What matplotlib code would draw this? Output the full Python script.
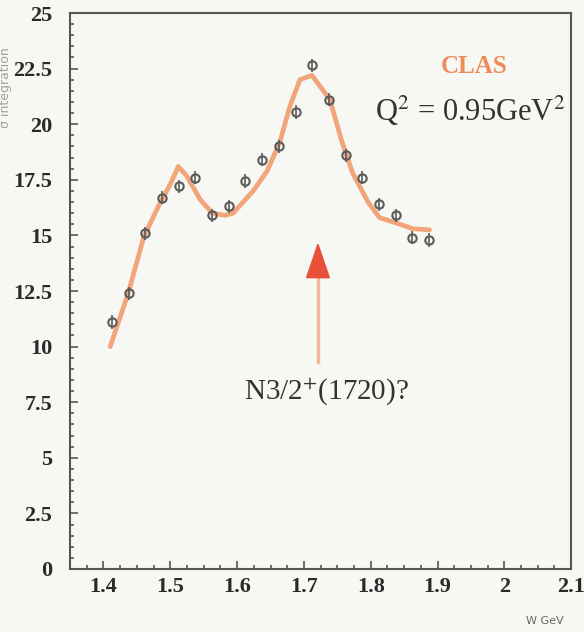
import numpy as np
from matplotlib import pyplot as plt
from matplotlib.ticker import MultipleLocator, FormatStrFormatter

# data
W = [1.4125, 1.4375, 1.4625, 1.4875, 1.5125, 1.5375, 1.5625, 1.5875, 1.6125, 1.6375,
     1.6625, 1.6875, 1.7125, 1.7375, 1.7625, 1.7875, 1.8125, 1.8375, 1.8625, 1.8875]
sigma = [11.1, 12.4, 15.1, 16.7, 17.2, 17.6, 15.9, 16.3, 17.45, 18.4,
         19.0, 20.55, 22.65, 21.1, 18.6, 17.6, 16.4, 15.9, 14.9, 14.8]
sigma_err = [0.3, 0.3, 0.3, 0.3, 0.3, 0.3, 0.3, 0.3, 0.3, 0.3,
             0.3, 0.3, 0.3, 0.3, 0.3, 0.3, 0.3, 0.3, 0.3, 0.3]

# fit curve
W_fit = [1.410, 1.437, 1.460, 1.482, 1.500, 1.512, 1.524, 1.545, 1.563, 1.582,
         1.594, 1.624, 1.645, 1.664, 1.679, 1.694, 1.712, 1.739, 1.757, 1.773,
         1.796, 1.813, 1.839, 1.863, 1.888]
sigma_fit = [10.0, 12.4, 14.9, 16.3, 17.3, 18.1, 17.7, 16.6, 16.0, 15.9,
             16.0, 17.0, 17.9, 19.2, 20.8, 22.0, 22.2, 21.1, 19.2, 17.8,
             16.5, 15.8, 15.55, 15.3, 15.25]

bg = '#f7f7f3'
plt.rcParams['mathtext.fontset'] = 'stix'

fig = plt.figure(figsize=(5.84, 6.32), dpi=100, facecolor=bg)
ax = fig.add_axes([0.12, 0.0997, 0.858, 0.8797])
ax.set_facecolor(bg)

ax.plot(W_fit, sigma_fit, color='#f2a47a', lw=3.4, solid_joinstyle='round',
        solid_capstyle='round', zorder=2)
ax.errorbar(W, sigma, yerr=sigma_err, fmt='o', ms=6, mfc='none', mec='#5a5a5a',
            mew=1.5, ecolor='#5a5a5a', elinewidth=1.2, capsize=0, zorder=3)

# arrow for the resonance
ax.plot([1.721, 1.721], [9.3, 13.1], color='#f3b89a', lw=2.5, zorder=2)
ax.arrow(1.721, 13.1, 0, 1.5, width=0, head_width=0.034, head_length=1.5,
         length_includes_head=True, color='#e8503a', zorder=3)

ax.text(1.734, 7.95, 'N3/2$^{+}$(1720)?', fontsize=21, family='Liberation Serif',
        color='#333333', ha='center', va='center')
ax.text(1.955, 22.6, 'CLAS', fontsize=18, family='Liberation Serif', weight='bold',
        color='#ee8c5a', ha='center', va='center')
ax.text(1.949, 20.6, 'Q$^2$ = 0.95GeV$^2$', fontsize=22, family='Liberation Serif',
        color='#333333', ha='center', va='center')

ax.set_xlim(1.35, 2.1)
ax.set_ylim(0, 25)
ax.xaxis.set_major_locator(MultipleLocator(0.1))
ax.xaxis.set_minor_locator(MultipleLocator(0.025))
ax.yaxis.set_major_locator(MultipleLocator(2.5))
ax.yaxis.set_minor_locator(MultipleLocator(0.5))
ax.xaxis.set_major_formatter(FormatStrFormatter('%g'))
ax.yaxis.set_major_formatter(FormatStrFormatter('%g'))

ax.tick_params(which='both', direction='in', color='#555555', width=1.2)
ax.tick_params(which='major', length=6)
ax.tick_params(which='minor', length=3)
ax.tick_params(axis='x', which='major', pad=6)
ax.tick_params(axis='y', which='major', pad=13)
for lab in ax.get_xticklabels() + ax.get_yticklabels():
    lab.set_fontfamily('Liberation Serif')
    lab.set_fontweight('bold')
    lab.set_fontsize(16)
    lab.set_color('#2a2a2a')

for s in ax.spines.values():
    s.set_color('#555555')
    s.set_linewidth(1.5)

fig.text(6/584, 0.861, '\u03c3 integration', rotation=90, fontsize=9,
         color='#a0a0a0', ha='center', va='center')
fig.text(0.933, 0.017, 'W GeV', fontsize=8, color='#666666', ha='center', va='center')

plt.savefig('out.png', dpi=100, facecolor=bg)
